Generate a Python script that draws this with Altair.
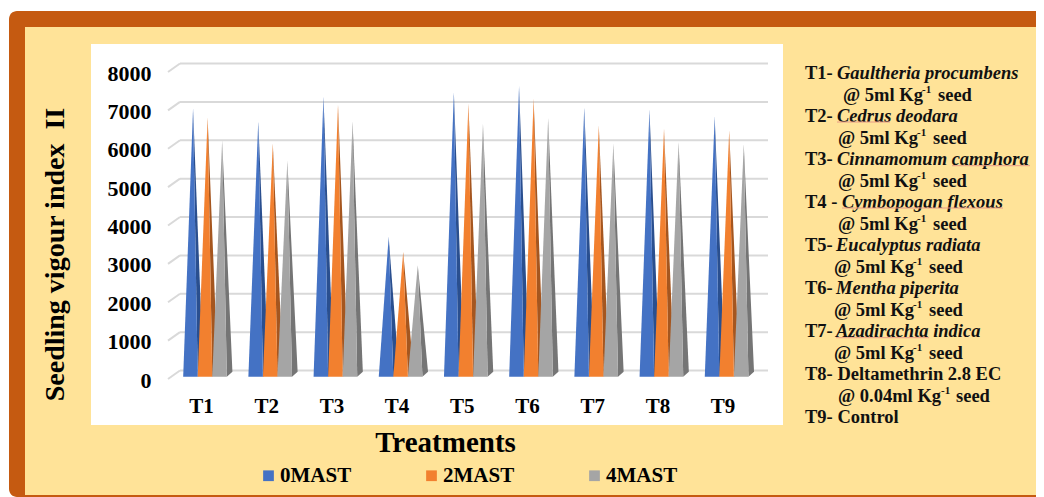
import altair as alt
import pandas as pd

# ---------- data ----------
treatments = ["T1", "T2", "T3", "T4", "T5", "T6", "T7", "T8", "T9"]
series_names = ["0MAST", "2MAST", "4MAST"]
mast0 = [6950, 6610, 7260, 3600, 7370, 7530, 6980, 6910, 6740]
mast2 = [6710, 6030, 7050, 3210, 7070, 7200, 6500, 6420, 6370]
mast4 = [6110, 5580, 6610, 2860, 6550, 6700, 6030, 6070, 6010]
y_ticks = [0, 1000, 2000, 3000, 4000, 5000, 6000, 7000, 8000]

key_species = [
    "Gaultheria procumbens", "Cedrus deodara", "Cinnamomum camphora",
    "Cymbopogan flexous", "Eucalyptus radiata", "Mentha piperita",
    "Azadirachta indica",
]
key_prefix = ["T1-", "T2-", "T3-", "T4 -", "T5-", "T6-", "T7-"]
dose_main = "@ 5ml Kg"
dose_t8 = "@ 0.04ml Kg"
t8_text = "T8- Deltamethrin 2.8 EC"
t9_text = "T9- Control"

# ---------- layout (image pixels) ----------
PLOT_L, PLOT_T, PLOT_R, PLOT_B = 180, 68, 768, 375
FONT = "Liberation Serif"
PITCH = 65.2          # px per treatment
C0 = 205.0            # px of first cluster centre
UNIT = 8000 / (PLOT_B - PLOT_T)  # data units per px


def px(x):
    return x - PLOT_L


def py(y):
    return y - PLOT_T


def pdx(p):  # pixel x -> treatment axis units
    return (p - C0) / PITCH


xs = alt.Scale(domain=[pdx(PLOT_L), pdx(PLOT_R)], nice=False, zero=False)
ys = alt.Scale(domain=[0, 8000], nice=False, zero=False)

x_axis = alt.Axis(
    values=list(range(9)), labelExpr="'T' + (datum.value + 1)", grid=False, ticks=False, domain=False,
    labelFont=FONT, labelFontWeight="bold", labelFontSize=21, labelColor="#000", labelPadding=20,
    labelOffset=-4, labelAngle=0, labelOverlap=False, labelBound=False, labelFlush=False, zindex=1,
    title="Treatments", titleFont=FONT, titleFontWeight="bold", titleFontSize=29, titleColor="#000",
    titleX=445 - PLOT_L, titleY=442 - PLOT_B, titleAlign="center", titleBaseline="middle",
)
y_axis = alt.Axis(
    values=y_ticks, format="d", grid=False, ticks=False, domain=False,
    labelFont=FONT, labelFontWeight="bold", labelFontSize=22, labelColor="#000", labelPadding=29,
    labelOffset=5, labelOverlap=False, labelBound=False, labelFlush=False, zindex=1,
    title="Seedling vigour index\u00a0\u00a0II", titleFont=FONT, titleFontWeight="bold", titleFontSize=28,
    titleColor="#000", titleX=55 - PLOT_L, titleY=254 - PLOT_T, titleAngle=270, titleAlign="center",
    titleBaseline="middle",
)
X = alt.X("x:Q", scale=xs, axis=x_axis)
Y = alt.Y("y:Q", scale=ys, axis=y_axis)

one = pd.DataFrame({"a": [0]})
layers = []


def box(x0, y0, x1, y1, color, **kw):
    return alt.Chart(one).mark_rect(color=color, **kw).encode(
        x=alt.value(px(x0)), x2=alt.value(px(x1)), y=alt.value(py(y0)), y2=alt.value(py(y1)))


# frame
layers.append(box(9, 11, 1052, 497, "#C55A11", cornerRadius=8))
layers.append(box(25, 27, 1052, 495, "#FFE398"))
layers.append(box(91, 44, 783, 425, "#FFFFFF"))

# gridlines: back wall plus the slanted floor stub on the left
BACK = 4.5 * UNIT
FRONT = -4.0 * UNIT
grid_back = pd.DataFrame({"y": y_ticks})
grid_back["x"], grid_back["x2"] = pdx(PLOT_L), pdx(PLOT_R)
grid_back["yb"] = grid_back["y"] + BACK
layers.append(alt.Chart(grid_back).mark_rule(color="#D9D9D9", strokeWidth=2).encode(
    x=X, x2="x2:Q", y=alt.Y("yb:Q", scale=ys, axis=y_axis)))
grid_stub = pd.DataFrame({"y": y_ticks})
grid_stub["x"], grid_stub["x2"] = pdx(168), pdx(PLOT_L)
grid_stub["y1"] = grid_stub["y"] + FRONT
grid_stub["y2"] = grid_stub["y"] + BACK
layers.append(alt.Chart(grid_stub).mark_rule(color="#D9D9D9", strokeWidth=2).encode(
    x=X, x2="x2:Q", y=alt.Y("y1:Q", scale=ys, axis=y_axis), y2="y2:Q"))

# pyramids
W = 14.55          # front face width (px)
APEX = 2.6         # apex shift (px)
DEPTH = 5.6        # side face depth (px)
BASE_F = -1.7 * UNIT
BASE_B = 3.3 * UNIT
color_scale = alt.Scale(domain=series_names, range=["#4472C4", "#F2802F", "#A5A5A5"])
side_cols = ["#2A4F8F", "#A5561F", "#757575"]
legend = alt.Legend(
    orient="none", legendX=258 - PLOT_L, legendY=465 - PLOT_T, direction="horizontal", columns=3, title=None,
    symbolType="square", symbolSize=115, symbolStrokeWidth=0, labelFont=FONT, labelFontWeight="bold",
    labelFontSize=21, labelColor="#000", labelOffset=1, columnPadding=69, padding=0, labelLimit=200,
)

for s, (name, vals) in enumerate(zip(series_names, [mast0, mast2, mast4])):
    front, side = [], []
    for i, (t, v) in enumerate(zip(treatments, vals)):
        left = C0 - 1.5 * W + s * W + i * PITCH
        right = left + W
        ax = (left + right) / 2 + APEX
        back = right + DEPTH
        for p, top in [(left, BASE_F), (ax, v), (right, BASE_F)]:
            front.append({"t": t, "series": name, "x": pdx(p), "y": top, "y2": BASE_F})
        upper = v + (BASE_B - v) * (right - ax) / (back - ax)
        for p, top, bot in [(ax, v, v), (right, upper, BASE_F), (back, BASE_B, BASE_B)]:
            side.append({"t": t, "x": pdx(p), "y": top, "y2": bot})
    layers.append(alt.Chart(pd.DataFrame(side)).mark_area(color=side_cols[s], interpolate="linear").encode(
        x=X, y=Y, y2="y2:Q", detail="t:N"))
    layers.append(alt.Chart(pd.DataFrame(front)).mark_area(interpolate="linear").encode(
        x=X, y=Y, y2="y2:Q", detail="t:N",
        color=alt.Color("series:N", scale=color_scale, legend=legend)))


# side key
def txt(s, x, y, size=18.5, style="normal", dy=0):
    return alt.Chart(one).mark_text(
        text=s, font=FONT, fontWeight="bold", fontStyle=style, fontSize=size, color="#111", align="left",
        baseline="middle", dy=dy,
    ).encode(x=alt.value(px(x)), y=alt.value(py(y)))


def squiggle(x0, x1, y):
    return alt.Chart(one).mark_rule(color="#E89A86", strokeWidth=1).encode(
        x=alt.value(px(x0)), x2=alt.value(px(x1)), y=alt.value(py(y)))


LINE0, STEP = 73.0, 21.5
prefix_x = 805
species_x = [837, 837, 837, 842, 836, 836, 836]
dose_x = [843, 838, 838, 838, 834, 834, 834]


def dose(label, x, y, sup_dx, seed_dx):
    return [txt(label, x, y), txt("-1", x + sup_dx, y, size=11, dy=-5), txt("seed", x + seed_dx, y)]


for i in range(7):
    y1 = LINE0 + STEP * 2 * i
    layers.append(txt(key_prefix[i], prefix_x, y1))
    layers.append(txt(key_species[i], species_x[i], y1, style="italic"))
    layers += dose(dose_main, dose_x[i], y1 + STEP, 79, 95)
layers.append(txt(t8_text, prefix_x, LINE0 + STEP * 14))
layers += dose(dose_t8, 838, LINE0 + STEP * 15, 103, 118)
layers.append(txt(t9_text, prefix_x, LINE0 + STEP * 16))

for a, b, y in [(837, 890, 122), (952, 1030, 165.7), (842, 1003, 208), (836, 929, 337.7)]:
    layers.append(squiggle(a, b, y))

chart = alt.layer(*layers).properties(
    width=PLOT_R - PLOT_L,
    height=PLOT_B - PLOT_T,
    padding={"left": PLOT_L - 8, "top": PLOT_T - 8, "right": 1036 - PLOT_R, "bottom": 497 - PLOT_B},
    autosize=alt.AutoSizeParams(type="none"),
    background="#FFFFFF",
).configure_view(stroke=None)

chart.save("out.html", embed_options={"renderer": "svg", "actions": False})
